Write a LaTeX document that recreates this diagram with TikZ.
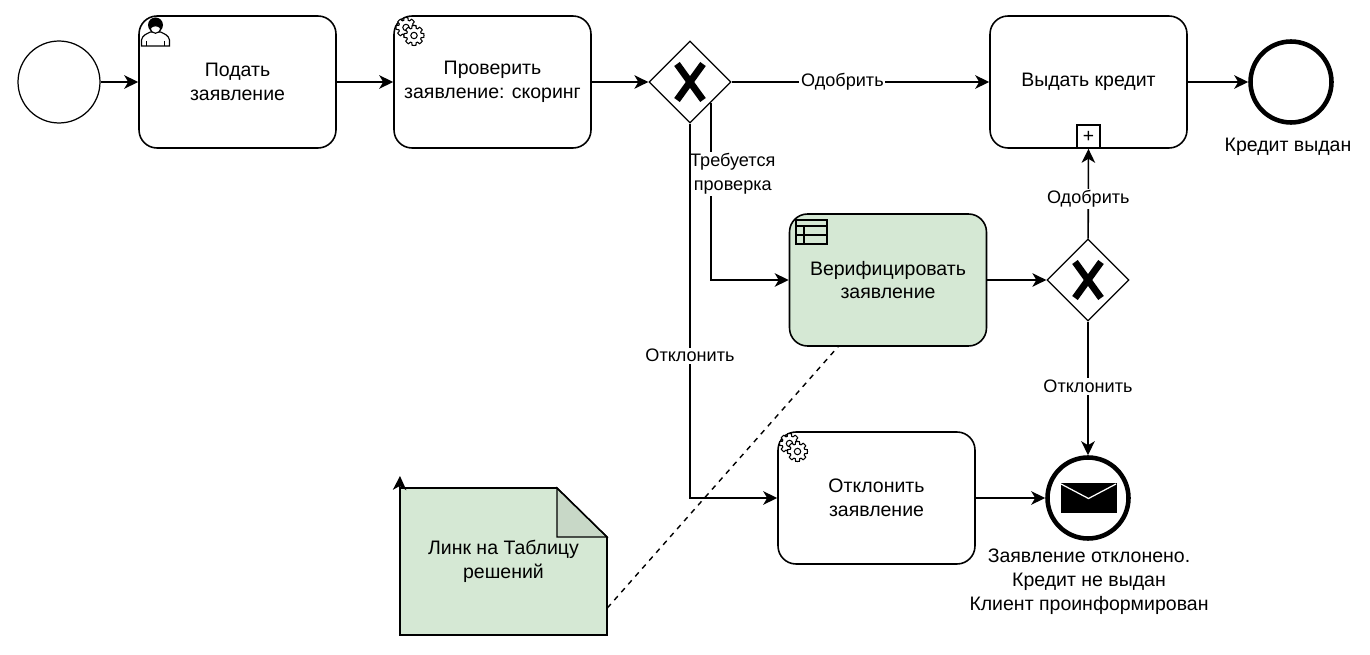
\documentclass[tikz,border=0pt]{standalone}
\usepackage{fontspec}
\setmainfont{Liberation Sans}
\usepackage{tikz}
\usetikzlibrary{arrows.meta, shapes.geometric, calc}
\definecolor{verdeTarefa}{HTML}{D5E8D4}
\definecolor{verdeDobra}{HTML}{C8D8C7}

\begin{document}
\begin{tikzpicture}[
    x=0.02cm, y=-0.02cm,
    taskbox/.style={draw, fill=white, line width=0.9pt, rounded corners=0.36cm, minimum width=3.94cm, minimum height=2.64cm, align=center, font=\fontsize{11.1}{13.6}\selectfont},
    greentask/.style={taskbox, fill=verdeTarefa},
    gatebox/.style={draw, fill=white, diamond, aspect=1, inner sep=0pt, line width=0.7pt, minimum width=1.64cm, minimum height=1.64cm},
    gatecross/.style={line width=3.9pt},
    startevent/.style={draw, circle, inner sep=0pt, line width=0.7pt, minimum size=1.64cm},
    endevent/.style={draw, circle, inner sep=0pt, line width=2.6pt, minimum size=1.62cm},
    plusbox/.style={draw, fill=white, line width=0.9pt, inner sep=0pt, minimum width=0.47cm, minimum height=0.46cm, font=\fontsize{11}{12}\selectfont},
    notebox/.style={inner sep=0pt, minimum width=4.14cm, minimum height=2.94cm, align=center, font=\fontsize{11.1}{13.6}\selectfont},
    plainlabel/.style={align=center, inner sep=0pt, font=\fontsize{11.1}{13.6}\selectfont},
    flowlabel/.style={fill=white, align=center, inner sep=1pt, font=\fontsize{10.3}{13.2}\selectfont},
    arrow/.style={line width=0.9pt, -{Stealth[length=2.8mm, width=2.7mm, inset=0.8mm]}},
    dashlink/.style={line width=0.8pt, dashed},
    gearicon/.pic={
        \foreach \gearx/\geary in {-5/-5, 3/3} {
            \draw[fill=white, line width=0.6pt] ($(\gearx,\geary)+(0:10)$)
                \foreach \ang in {0,45,...,315} {
                    -- ($(\gearx,\geary)+(\ang+11:10)$) -- ($(\gearx,\geary)+(\ang+17:7.5)$)
                    -- ($(\gearx,\geary)+(\ang+28:7.5)$) -- ($(\gearx,\geary)+(\ang+34:10)$) -- ($(\gearx,\geary)+(\ang+45:10)$)
                } -- cycle;
            \draw[line width=0.6pt] (\gearx,\geary) circle (3.2);
        }
    },
    usericon/.pic={
        \draw[fill=white, line width=0.65pt] (-14,14) -- (-14,8) .. controls (-13,3) and (-9,2) .. (-5,0)
            -- (5,0) .. controls (9,2) and (13,3) .. (14,8) -- (14,14) -- cycle;
        \draw[line width=0.65pt] (-9,9) -- (-9,14) (9,9) -- (9,14);
        \fill (0,-7) circle (7.5);
        \draw[fill=white, line width=0.65pt] (-5,-4) .. controls (-3,-7) and (3,-7) .. (5,-4) .. controls (5,3) and (-5,3) .. (-5,-4);
    },
    tableicon/.pic={
        \draw[line width=0.7pt] (0,0) rectangle (31,24) (0,6) -- (31,6) (0,15) -- (31,15) (8,6) -- (8,24);
    }
]
    \useasboundingbox (0,0) rectangle (1370,655);

    % top row
    \node[startevent] (start) at (59,82) {};
    \node[taskbox] (submit) at (237.5,82) {Подать\\заявление};
    \node[taskbox] (scoring) at (492.5,82) {Проверить\\заявление: скоринг};
    \node[gatebox] (gate1) at (690,82) {};
    \node[taskbox] (issue) at (1088.5,82) {Выдать кредит};
    \node[endevent] (issued) at (1291,82) {};
    \node[plainlabel] (issuedlabel) at (1288,147) {Кредит выдан};
    \node[plusbox] (plus) at (1088.5,136.5) {+};

    % lower rows
    \node[greentask] (verify) at (888,280) {Верифицировать\\заявление};
    \node[gatebox] (gate2) at (1088,280) {};
    \node[taskbox] (reject) at (876.5,498) {Отклонить\\заявление};
    \node[endevent] (rejected) at (1088,498) {};
    \node[plainlabel] (rejectedlabel) at (1089,582) {Заявление отклонено.\\Кредит не выдан\\Клиент проинформирован};

    % note
    \fill[verdeTarefa] (400,488) -- (557,488) -- (607,537) -- (607,635) -- (400,635) -- cycle;
    \draw[fill=verdeDobra, line width=0.7pt] (557,488) -- (607,537) -- (557,537) -- cycle;
    \draw[line width=0.9pt] (400,488) -- (557,488) -- (607,537) -- (607,635) -- (400,635) -- cycle;
    \node[notebox] (note) at (503.5,561.5) {Линк на Таблицу\\решений};
    \coordinate (notetip) at (400,476);

    % icons
    \pic at (155.5,32) {usericon};
    \pic at (411,32.5) {gearicon};
    \pic at (794.5,448.5) {gearicon};
    \pic at (796,220) {tableicon};
    \fill (1060.5,483) rectangle (1116.5,513);
    \draw[white, line width=0.7pt] (1061,484) -- (1088.5,498.5) -- (1116,484);

    \foreach \gatename in {gate1, gate2} {
        \draw[gatecross] ($(\gatename.center)+(-13,-18)$) -- ($(\gatename.center)+(13,18)$);
        \draw[gatecross] ($(\gatename.center)+(13,-18)$) -- ($(\gatename.center)+(-13,18)$);
    }

    \draw[arrow] (start) -- (submit);
    \draw[arrow] (submit) -- (scoring);
    \draw[arrow] (scoring) -- (gate1);
    \draw[arrow] (gate1) -- node[flowlabel, pos=0.43] {Одобрить} (issue);
    \draw[arrow] (issue) -- (issued);
    \draw[arrow] (gate1.south east) |- node[flowlabel, pos=0.2, xshift=12.5pt] {Требуется\\проверка} (verify);
    \draw[arrow] (gate1) |- node[flowlabel, pos=0.31] {Отклонить} (reject);
    \draw[arrow] (verify) -- (gate2);
    \draw[arrow] (gate2) -- node[flowlabel, pos=0.44] {Одобрить} (plus);
    \draw[arrow] (gate2) -- node[flowlabel, pos=0.485] {Отклонить} (rejected);
    \draw[arrow] (reject) -- (rejected);
    \draw[arrow] (note.north west) -- (notetip);
    \draw[dashlink] ($(note.east)+(0,46.5)$) -- ($(verify.south)+(-50,0)$);
\end{tikzpicture}
\end{document}
